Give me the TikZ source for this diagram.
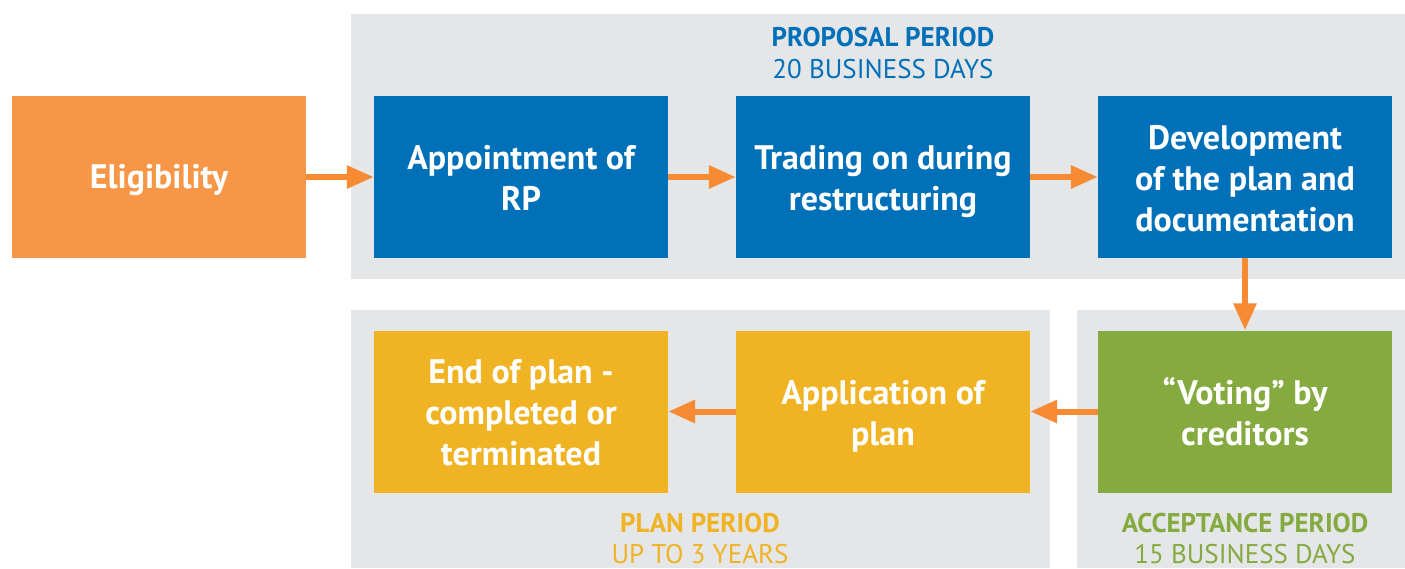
\documentclass[tikz,border=0pt]{standalone}
\usepackage{fontspec}
\setmainfont{PT Sans}
\usetikzlibrary{arrows.meta}

\definecolor{eligorange}{RGB}{247,150,70}
\definecolor{arroworange}{RGB}{246,139,52}
\definecolor{rpblue}{RGB}{0,112,184}
\definecolor{votegreen}{RGB}{132,170,64}
\definecolor{planyellow}{RGB}{240,179,35}
\definecolor{periodgray}{RGB}{229,230,232}

\newcommand{\padtop}{\rule{0pt}{39pt}}

\tikzset{
  stage/.style={minimum width=294pt,minimum height=162pt,inner sep=0pt,
    text=white,align=center,font=\fontsize{34}{41}\selectfont\bfseries,
    execute at end node=\strut},
  flow/.style={-{Triangle[width=22pt,length=27pt]},line width=6pt,color=arroworange},
  periodname/.style={anchor=base,font=\fontsize{27}{32}\selectfont\bfseries},
  periodtime/.style={anchor=base,font=\fontsize{27}{32}\selectfont}
}

\begin{document}
\begin{tikzpicture}[x=1pt,y=-1pt]

\useasboundingbox (0,0) rectangle (1405,568);

% shaded periods
\fill[periodgray] (351,14) rectangle (1405,279);
\fill[periodgray] (351,310) rectangle (1050,568);
\fill[periodgray] (1077,310) rectangle (1405,568);

\node[periodname,text=rpblue] (propname) at (883,46) {PROPOSAL PERIOD};
\node[periodtime,text=rpblue] (proptime) at (883,78) {20 BUSINESS DAYS};
\node[periodname,text=planyellow] (planname) at (700,532) {PLAN PERIOD};
\node[periodtime,text=planyellow] (plantime) at (700,563) {UP TO 3 YEARS};
\node[periodname,text=votegreen] (accname) at (1245,532) {ACCEPTANCE PERIOD};
\node[periodtime,text=votegreen] (acctime) at (1245,563) {15 BUSINESS DAYS};

% stages
\node[stage,fill=eligorange] (elig) at (159,177) {\rule{0pt}{35pt}Eligibility};
\node[stage,fill=rpblue] (appoint) at (521,177) {\padtop Appointment of\\RP};
\node[stage,fill=rpblue] (trading) at (883,177) {\padtop Trading on during\\restructuring};
\node[stage,fill=rpblue] (develop) at (1245,177) {\padtop Development\\of the plan and\\documentation};
\node[stage,fill=votegreen] (voting) at (1245,411.5) {\padtop “Voting” by\\creditors};
\node[stage,fill=planyellow] (apply) at (883,411.5) {\padtop Application of\\plan};
\node[stage,fill=planyellow] (endplan) at (521,411.5) {\padtop End of plan -\\completed or\\terminated};

\draw[flow] (elig) -- (appoint);
\draw[flow] (appoint) -- (trading);
\draw[flow] (trading) -- (develop);
\draw[flow] (develop) -- (voting);
\draw[flow] (voting) -- (apply);
\draw[flow] (apply) -- (endplan);

\end{tikzpicture}
\end{document}
